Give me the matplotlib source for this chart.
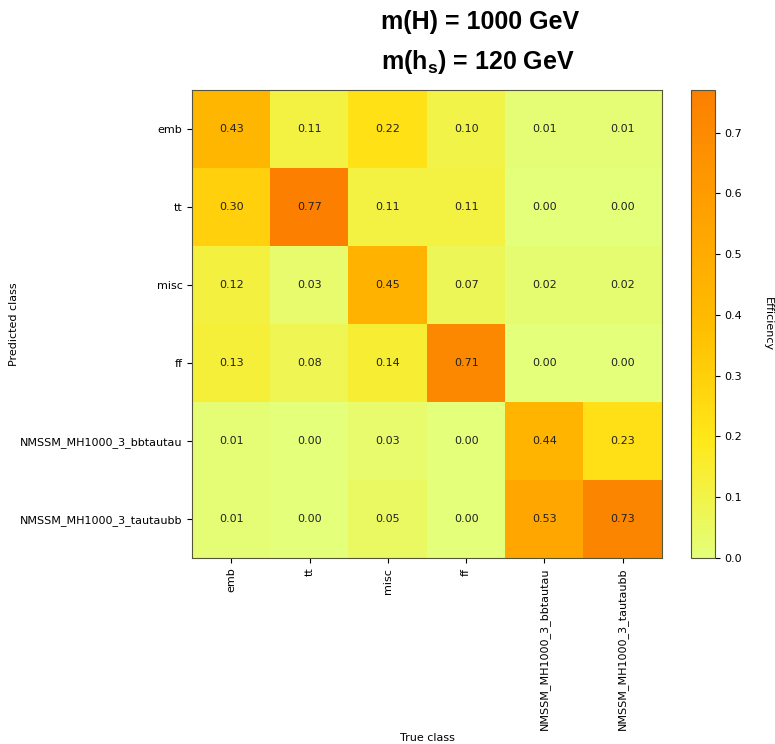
import matplotlib
matplotlib.use("Agg")
import matplotlib.pyplot as plt
import numpy as np

true_classes = ["emb", "tt", "misc", "ff", "NMSSM_MH1000_3_bbtautau", "NMSSM_MH1000_3_tautaubb"]
pred_classes = ["emb", "tt", "misc", "ff", "NMSSM_MH1000_3_bbtautau", "NMSSM_MH1000_3_tautaubb"]

row_emb = [0.43, 0.11, 0.22, 0.10, 0.01, 0.01]
row_tt = [0.30, 0.77, 0.11, 0.11, 0.00, 0.00]
row_misc = [0.12, 0.03, 0.45, 0.07, 0.02, 0.02]
row_ff = [0.13, 0.08, 0.14, 0.71, 0.00, 0.00]
row_bbtautau = [0.01, 0.00, 0.03, 0.00, 0.44, 0.23]
row_tautaubb = [0.01, 0.00, 0.05, 0.00, 0.53, 0.73]

cbar_ticks = [0.0, 0.1, 0.2, 0.3, 0.4, 0.5, 0.6, 0.7]

matrix = np.array([row_emb, row_tt, row_misc, row_ff, row_bbtautau, row_tautaubb])

plt.rcParams['mathtext.fontset'] = 'custom'
plt.rcParams['mathtext.bf'] = 'Liberation Sans:bold'
plt.rcParams['mathtext.rm'] = 'Liberation Sans'

fs = 8
fig = plt.figure(figsize=(7.75, 7.44), dpi=100)
ax = fig.add_axes([0.248, 0.25, 0.606, 0.629])
cax = fig.add_axes([0.892, 0.25, 0.030, 0.629])

im = ax.imshow(matrix, cmap='Wistia', vmin=0, vmax=matrix.max(), aspect='auto')

for i in range(matrix.shape[0]):
    for j in range(matrix.shape[1]):
        ax.text(j, i, f"{matrix[i, j]:.2f}", ha='center', va='center', fontsize=fs, color='#222222')

ax.set_xticks(range(len(true_classes)))
ax.set_xticklabels(true_classes, rotation=90, fontsize=fs)
ax.set_yticks(range(len(pred_classes)))
ax.set_yticklabels(pred_classes, fontsize=fs)
ax.set_xlabel("True class", fontsize=fs, labelpad=2)
ax.set_ylabel("Predicted class", fontsize=fs)
ax.yaxis.set_label_coords(-0.368, 0.5)
for s in ax.spines.values():
    s.set_color('#55553a')

cb = fig.colorbar(im, cax=cax, ticks=cbar_ticks)
cb.ax.tick_params(labelsize=fs)
cb.set_label("Efficiency", rotation=270, labelpad=22, fontsize=fs)
cb.outline.set_edgecolor('#55553a')

fig.text(0.619, 0.970, "m(H) = 1000 GeV", ha='center', va='center', fontsize=18,
         fontweight='bold', family='Liberation Sans')
fig.text(0.617, 0.916, r"$\mathbf{m(h_{s})}$ = 120 GeV", ha='center', va='center', fontsize=18,
         fontweight='bold', family='Liberation Sans')

fig.savefig("out.png", dpi=100)
